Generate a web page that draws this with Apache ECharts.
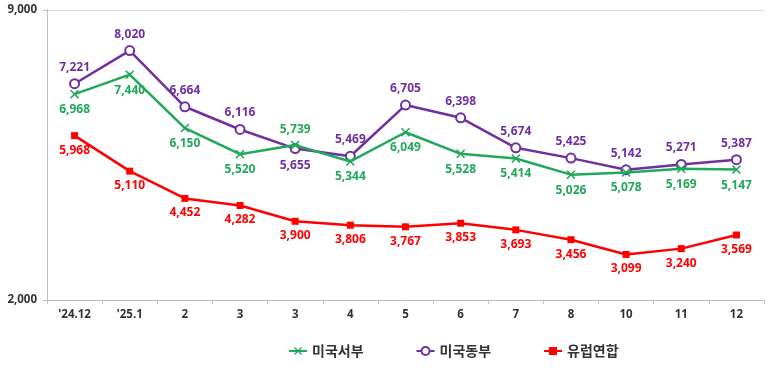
<!DOCTYPE html>
<html>
<head>
<meta charset="utf-8">
<script src="https://cdn.jsdelivr.net/npm/echarts@6/dist/echarts.min.js"></script>
<style>html,body{margin:0;padding:0;background:#fff}#c{width:780px;height:371px}</style>
</head>
<body>
<div id="c"></div>
<script>
const categories = ["'24.12", "'25.1", "2", "3", "3", "4", "5", "6", "7", "8", "10", "11", "12"];
const westUS = [6968, 7440, 6150, 5520, 5739, 5344, 6049, 5528, 5414, 5026, 5078, 5169, 5147];
const eastUS = [7221, 8020, 6664, 6116, 5655, 5469, 6705, 6398, 5674, 5425, 5142, 5271, 5387];
const europe = [5968, 5110, 4452, 4282, 3900, 3806, 3767, 3853, 3693, 3456, 3099, 3240, 3569];
const seriesNames = ["미국서부", "미국동부", "유럽연합"];
const yTicks = [2000, 9000];

const GREEN = '#22a85a', PURPLE = '#7030a0', RED = '#ff0000';
const labelFont = { fontFamily: 'Noto Sans, sans-serif', fontWeight: 'bold', fontSize: 12 };
const fmt = v => v.toLocaleString('en-US');

function withLabels(values, color, pos, overrides) {
  return values.map((v, i) => ({
    value: v,
    label: Object.assign({ show: true, position: overrides[i] || pos, distance: 5, color: color, formatter: p => fmt(p.value) }, labelFont)
  }));
}

const xPath = 'path://M0,1.2L1.2,0L5,3.8L8.8,0L10,1.2L6.2,5L10,8.8L8.8,10L5,6.2L1.2,10L0,8.8L3.8,5Z';

const option = {
  animation: false,
  grid: { left: 47, right: 16, top: 10, bottom: 71, containLabel: false },
  legend: {
    bottom: 8, left: 283, itemGap: 52, itemWidth: 18, itemHeight: 10,
    textStyle: { fontFamily: 'Noto Sans CJK KR', fontWeight: 'bold', fontSize: 14, color: '#333' },
    data: seriesNames
  },
  xAxis: {
    type: 'category', data: categories, boundaryGap: true,
    axisLine: { lineStyle: { color: '#bfbfbf', width: 1 } },
    axisTick: { show: true, length: 4, lineStyle: { color: '#bfbfbf' } },
    axisLabel: { color: '#333', fontFamily: 'Noto Sans, sans-serif', fontWeight: 'bold', fontSize: 11.5, margin: 9 }
  },
  yAxis: {
    type: 'value', min: yTicks[0], max: yTicks[1], interval: yTicks[1] - yTicks[0],
    axisLine: { show: true, lineStyle: { color: '#bfbfbf' } },
    axisTick: { show: true, length: 4, lineStyle: { color: '#bfbfbf' } },
    splitLine: { lineStyle: { color: '#d9d9d9' } },
    axisLabel: { color: '#333', fontFamily: 'Noto Sans, sans-serif', fontWeight: 'bold', fontSize: 11.5, margin: 10, formatter: v => fmt(v) }
  },
  series: [
    {
      name: seriesNames[0], type: 'line', data: withLabels(westUS, GREEN, 'bottom', { 4: 'top' }),
      symbol: xPath, symbolSize: 9, lineStyle: { color: GREEN, width: 2.5 }, itemStyle: { color: GREEN }, z: 3
    },
    {
      name: seriesNames[1], type: 'line', data: withLabels(eastUS, PURPLE, 'top', { 4: 'bottom' }),
      symbol: 'emptyCircle', symbolSize: 9, lineStyle: { color: PURPLE, width: 2.5 },
      itemStyle: { color: PURPLE, borderWidth: 1.2 }, z: 2
    },
    {
      name: seriesNames[2], type: 'line', data: withLabels(europe, RED, 'bottom', {}),
      symbol: 'rect', symbolSize: 7, lineStyle: { color: RED, width: 2.5 }, itemStyle: { color: RED }, z: 4
    }
  ]
};
echarts.init(document.getElementById('c')).setOption(option);
</script>
</body>
</html>
